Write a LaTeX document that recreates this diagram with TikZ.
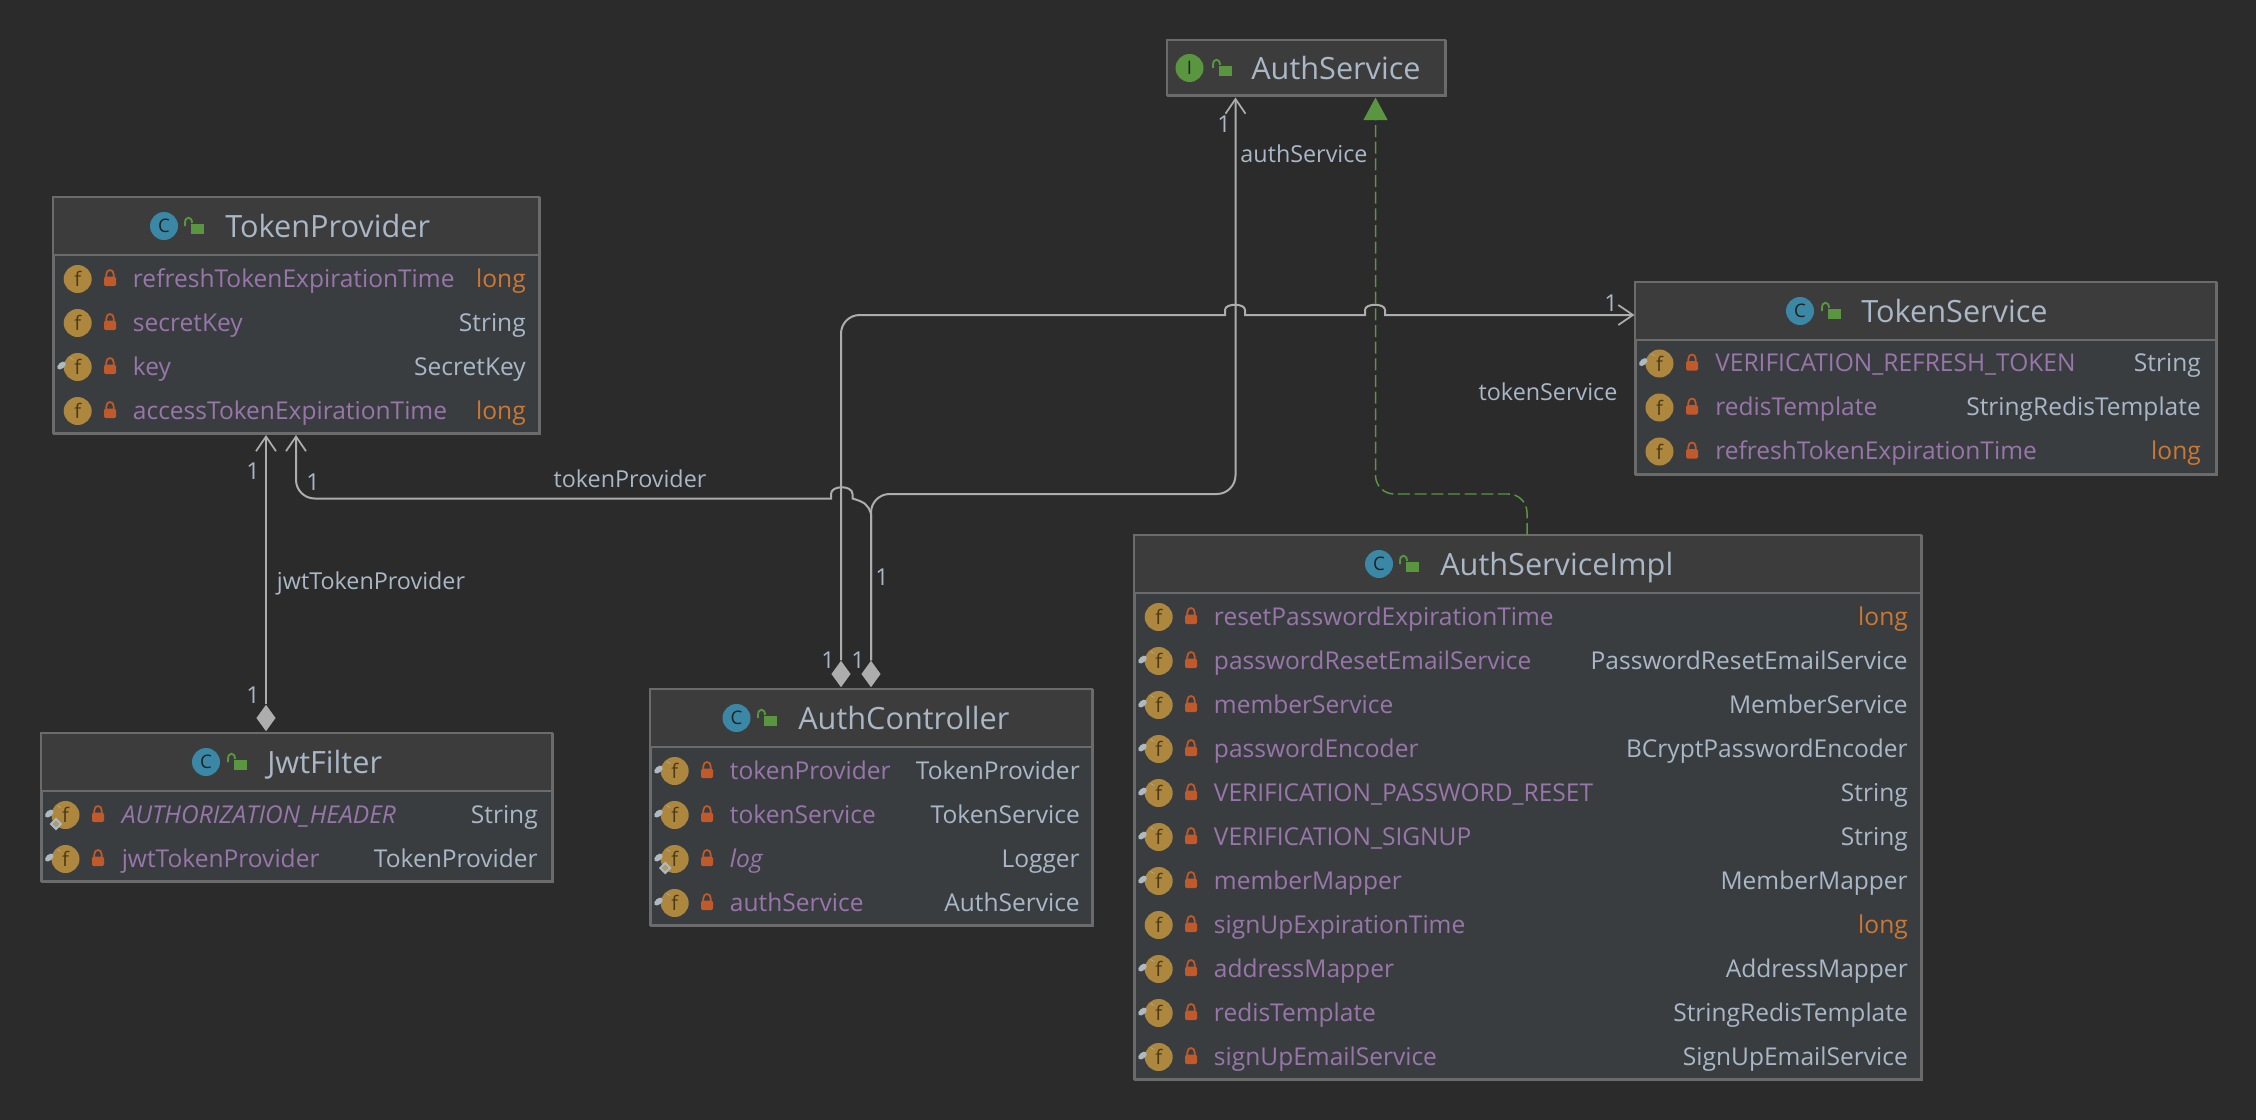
\documentclass[tikz,border=0pt]{standalone}
\usepackage{fontspec}
\setmainfont{Open Sans}
\usetikzlibrary{arrows.meta,shapes.geometric,calc}
\definecolor{cbg}{HTML}{2B2B2B}
\definecolor{chead}{HTML}{3C3C3C}
\definecolor{cbody}{HTML}{3A3D40}
\definecolor{cborder}{HTML}{6B6B6B}
\definecolor{ctext}{HTML}{A9B7C6}
\definecolor{cname}{HTML}{9876AA}
\definecolor{clong}{HTML}{CC7832}
\definecolor{cfico}{HTML}{AD873D}
\definecolor{cfdark}{HTML}{4A3A18}
\definecolor{clock}{HTML}{C15A2A}
\definecolor{cgreen}{HTML}{5A9640}
\definecolor{cblue}{HTML}{3A88A6}
\definecolor{cline}{HTML}{ADADAD}
\definecolor{cpin}{HTML}{AEB9C0}
\tikzset{
  classbody/.style={draw=cborder,fill=cbody,line width=1.5pt,inner sep=0pt,anchor=north west},
  titletext/.style={text=ctext,anchor=base west,inner sep=0pt,font=\fontsize{23}{26}\selectfont},
  rowname/.style={text=cname,anchor=base west,inner sep=0pt,font=\fontsize{18.4}{22}\selectfont},
  rowtype/.style={text=ctext,anchor=base east,inner sep=0pt,font=\fontsize{18.4}{22}\selectfont},
  edgelabel/.style={text=ctext,anchor=center,inner sep=0pt,font=\fontsize{17.5}{21}\selectfont},
  assoc/.style={draw=cline,line width=1.5pt,-{Straight Barb[length=11pt,width=15pt,line width=1.3pt]},rounded corners=14pt},
  plainlink/.style={draw=cline,line width=1.5pt},
  realize/.style={draw=cgreen,line width=1.1pt,dash pattern=on 9pt off 3.5pt,-{Triangle[length=17pt,width=18pt,fill=cgreen]},rounded corners=14pt},
  compdia/.style={diamond,fill=cline,draw=none,inner sep=0pt,minimum width=14.5pt,minimum height=20pt,aspect=0.72},
}
\newcounter{tn}
\newcommand\ClassBox[6]{%
  \pgfmathsetmacro\bw{(#4-#2)*0.75}\pgfmathsetmacro\bh{(#5-#3)*0.75}%
  \node[classbody,minimum width=\bw pt,minimum height=\bh pt] (#1) at (#2,#3) {};
  \fill[chead] (#2,#3) rectangle (#4,#6);
  \draw[cborder,line width=1.5pt] (#2,#6) -- (#4,#6);
  \draw[cborder,line width=1.5pt] (#2,#3) rectangle (#4,#5);
}
\newcommand\OpenLock{%
  \fill[cgreen] (-2,-2) rectangle (11,8);
  \draw[cgreen,line width=1.4pt] (-8,0) -- (-8,-3) .. controls (-8,-10) and (-1,-10) .. (-1,-3);
}
\newcommand\Title[6]{% name iconletter iconcolor iconx lockx titlex y  -> see below
}
\newcommand\Head[7]{% name,letter,colour,iconx,lockx,titlex,y
  \fill[#3] (#4,#7) circle[radius=14];
  \stepcounter{tn}\node[text=cbg!80!black,inner sep=0pt,font=\fontsize{14}{14}\selectfont] (ic\thetn) at (#4,#7) {#2};
  \begin{scope}[shift={(#5,#7)}]\OpenLock\end{scope}
  \stepcounter{tn}\node[titletext] (title\thetn) at (#6,#7+11.5) {#1};
}
\newcommand\Pin{%
  \fill[cpin,rotate=40] (-11.5,-11.5) ellipse[x radius=5,y radius=3];
  \fill[cpin] (-8,-10) -- (-4,-7) -- (-7,-8.5) -- cycle;
}
\newcommand\Stat{%
  \draw[cpin,fill=cfico!60!cpin,line width=1.5pt] (-9.5,4) -- (-4.5,9) -- (-9.5,14) -- (-14.5,9) -- cycle;
}
\newcommand\Cols[4]{\def\colF{#1}\def\colL{#2}\def\colN{#3}\def\colT{#4}}
\newcommand\Row[4][]{%
  \begin{scope}[shift={(\colF,#2)}]
    \fill[cfico] (0,0) circle[radius=14];
    \stepcounter{tn}\node[text=cfdark,inner sep=0pt,font=\fontsize{15}{15}\selectfont] (fi\thetn) at (0,0) {f};
    #1
  \end{scope}
  \begin{scope}[shift={(\colL,#2)}]
    \fill[clock,rounded corners=1pt] (-6,-2.3) rectangle (6,7);
    \draw[clock,line width=1.3pt] (-3.7,-2) -- (-3.7,-4.5) .. controls (-3.7,-10.5) and (3.7,-10.5) .. (3.7,-4.5) -- (3.7,-2);
  \end{scope}
  \stepcounter{tn}\node[rowname] (rn\thetn) at (\colN,#2+8) {#3};
  \stepcounter{tn}\node[rowtype] (rt\thetn) at (\colT,#2+8) {#4};
}
\newcommand\Lng{\textcolor{clong}{long}}
\begin{document}
\begin{tikzpicture}[x=0.75pt,y=-0.75pt]
\useasboundingbox (0,0) rectangle (2256,1120);
\fill[cbg] (0,0) rectangle (2256,1120);

% ---------- classes
\ClassBox{as}{1166.5}{40.5}{1445}{95.5}{95.5}
\Head{AuthService}{I}{cgreen}{1189.5}{1221}{1251}{68}

\ClassBox{tp}{52.5}{197}{539}{433}{255}
\Head{TokenProvider}{C}{cblue}{164}{193}{225}{226}
\Cols{77.7}{110}{132.7}{526}
\Row{279}{refreshTokenExpirationTime}{\Lng}
\Row{323}{secretKey}{String}
\Row[\Pin]{367}{key}{SecretKey}
\Row{411}{accessTokenExpirationTime}{\Lng}

\ClassBox{ts}{1634.5}{282}{2216}{474}{340}
\Head{TokenService}{C}{cblue}{1800}{1830}{1861}{311}
\Cols{1659.5}{1692}{1715}{2201}
\Row[\Pin]{363.5}{VERIFICATION\_REFRESH\_TOKEN}{String}
\Row{407.5}{redisTemplate}{StringRedisTemplate}
\Row{451.5}{refreshTokenExpirationTime}{\Lng}

\ClassBox{jf}{41}{733}{551.5}{881}{791}
\Head{JwtFilter}{C}{cblue}{206}{236}{267}{762}
\Cols{65.5}{98}{121.5}{538}
\Row[\Pin\Stat]{815}{\itshape AUTHORIZATION\_HEADER}{String}
\Row[\Pin]{859}{jwtTokenProvider}{TokenProvider}

\ClassBox{ac}{650}{689}{1092}{925}{747}
\Head{AuthController}{C}{cblue}{736.5}{766}{798}{718}
\Cols{674.7}{707}{729.7}{1080}
\Row[\Pin]{771}{tokenProvider}{TokenProvider}
\Row[\Pin]{815}{tokenService}{TokenService}
\Row[\Pin\Stat]{859}{\itshape log}{Logger}
\Row[\Pin]{903}{authService}{AuthService}

\ClassBox{im}{1134}{535}{1921}{1079}{592.5}
\Head{AuthServiceImpl}{C}{cblue}{1379}{1408}{1440}{564}
\Cols{1158.7}{1191}{1213.7}{1908}
\Row{617}{resetPasswordExpirationTime}{\Lng}
\Row[\Pin]{661}{passwordResetEmailService}{PasswordResetEmailService}
\Row[\Pin]{705}{memberService}{MemberService}
\Row[\Pin]{749}{passwordEncoder}{BCryptPasswordEncoder}
\Row[\Pin]{793}{VERIFICATION\_PASSWORD\_RESET}{String}
\Row[\Pin]{837}{VERIFICATION\_SIGNUP}{String}
\Row[\Pin]{881}{memberMapper}{MemberMapper}
\Row{925}{signUpExpirationTime}{\Lng}
\Row[\Pin]{969}{addressMapper}{AddressMapper}
\Row[\Pin]{1013}{redisTemplate}{StringRedisTemplate}
\Row[\Pin]{1057}{signUpEmailService}{SignUpEmailService}

% ---------- composition diamonds
\node[compdia] (djf) at (266,718) {};
\node[compdia] (da) at (841,674) {};
\node[compdia] (db) at (871,674) {};

% ---------- connectors
\draw[assoc] (djf.north) -- (djf.north |- tp.south);
\draw[assoc] (da.north) -- (841,315) [sharp corners]
  -- (1225,315) -- (1225,310) .. controls (1225,303) and (1245,303) .. (1245,310) -- (1245,315)
  -- (1365,315) -- (1365,310) .. controls (1365,303) and (1385,303) .. (1385,310) -- (1385,315)
  -- (ts.west |- 0,315);
\draw[assoc] (db.north) -- (871,494) -- (1235.5,494) -- (1235.5,0 |- as.south);
\draw[assoc,rounded corners=0pt] (db.north) -- (871,514) .. controls (868,504) and (864,502) .. (852.5,498.5)
  -- (852.5,494) .. controls (852.5,485) and (831,485) .. (831,494) -- (831,498.5)
  [rounded corners=14pt] -- (296,498.5) -- (296,0 |- tp.south);
\draw[realize] (im.north west -| 1527,0) -- (1527,494) -- (1375.5,494) -- (1375.5,0 |- as.south);

% ---------- edge labels
\node[edgelabel] (l1) at (1304,154) {authService};
\node[edgelabel] (l2) at (1548,392) {tokenService};
\node[edgelabel] (l3) at (630,479) {tokenProvider};
\node[edgelabel] (l4) at (371,583) {jwtTokenProvider};
\node[edgelabel] (m1) at (1224,124) {1};
\node[edgelabel] (m2) at (1611,303) {1};
\node[edgelabel] (m3) at (253,471) {1};
\node[edgelabel] (m4) at (313,482) {1};
\node[edgelabel] (m5) at (253,695) {1};
\node[edgelabel] (m6) at (828,660) {1};
\node[edgelabel] (m7) at (858,660) {1};
\node[edgelabel] (m8) at (882,577) {1};
\end{tikzpicture}
\end{document}
